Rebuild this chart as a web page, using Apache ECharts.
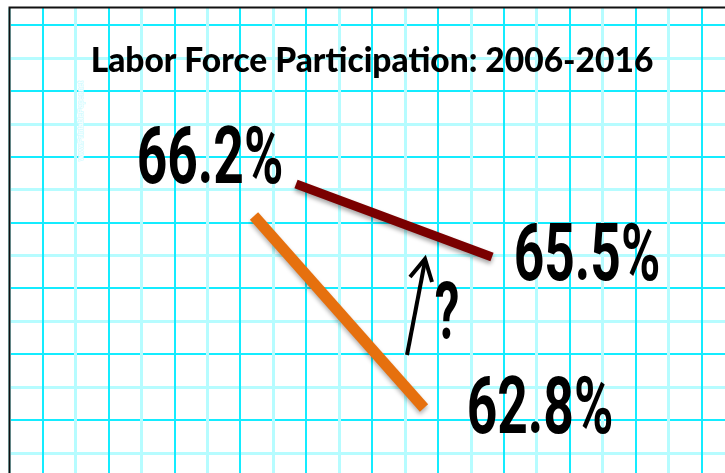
<!DOCTYPE html>
<html>
<head>
<meta charset="utf-8">
<style>
  html, body { margin: 0; padding: 0; background: #fff; }
  #chart { width: 725px; height: 473px; }
</style>
<script src="https://cdn.jsdelivr.net/npm/echarts/dist/echarts.min.js"></script>
</head>
<body>
<div id="chart"></div>
<script>
// 数据
var years = [2006, 2016];
var redValues = [66.2, 65.5];     // 深红线
var orangeValues = [66.2, 62.8];  // 橙线
var titleText = 'Labor Force Participation: 2006-2016';
var questionText = '?';
var watermarkText = 'www.PrintablePaper.net';

var chart = echarts.init(document.getElementById('chart'));

var CELL_X = 65.9; // 方格大小
var CELL_Y = 65.8;
var BRIGHT = '#14ecff';
var LIGHT = '#b6fcff';

// 百分比文字
function pct(v) {
    return v.toFixed(1) + '%';
}

// 窄字体效果的大号文字
function bigText(text, x, y, size, sx) {
    return {
        type: 'text',
        x: x,
        y: y,
        scaleX: sx,
        z: 20,
        style: {
            text: text,
            font: 'bold ' + size + 'px Roboto',
            fill: '#000',
            textAlign: 'center',
            textVerticalAlign: 'middle'
        }
    };
}

// 方格纸的轴
function paperAxis(idx, count, color, width) {
    return {
        type: 'value',
        gridIndex: idx,
        min: 0,
        max: count,
        interval: 1,
        axisLine: { show: false },
        axisTick: { show: false },
        axisLabel: { show: false },
        splitLine: { show: true, lineStyle: { color: color, width: width } }
    };
}

function hiddenAxis(idx, min, max) {
    return {
        type: 'value',
        gridIndex: idx,
        min: min,
        max: max,
        show: false,
        splitLine: { show: false }
    };
}

var option = {
    animation: false,
    backgroundColor: '#fff',
    grid: [
        // 竖线：浅色，深色
        { left: 9.5, top: 8, width: 10 * CELL_X, bottom: 0 },
        { left: 42.5, top: 8, width: 10 * CELL_X, bottom: 0 },
        // 横线：浅色，深色
        { left: 10, right: 0, top: 58, height: 6 * CELL_Y },
        { left: 10, right: 0, top: 25, height: 6 * CELL_Y },
        // 两条线
        { left: 296, top: 184, width: 196, height: 73 },
        { left: 254, top: 216, width: 170, height: 192 }
    ],
    xAxis: [
        paperAxis(0, 10, LIGHT, 3),
        paperAxis(1, 10, BRIGHT, 2),
        hiddenAxis(2, 0, 1),
        hiddenAxis(3, 0, 1),
        hiddenAxis(4, years[0], years[1]),
        hiddenAxis(5, years[0], years[1])
    ],
    yAxis: [
        hiddenAxis(0, 0, 1),
        hiddenAxis(1, 0, 1),
        paperAxis(2, 6, LIGHT, 3),
        paperAxis(3, 6, BRIGHT, 2),
        hiddenAxis(4, Math.min.apply(null, redValues), Math.max.apply(null, redValues)),
        hiddenAxis(5, Math.min.apply(null, orangeValues), Math.max.apply(null, orangeValues))
    ],
    series: [
        {
            type: 'line',
            xAxisIndex: 4,
            yAxisIndex: 4,
            data: years.map(function (y, i) { return [y, redValues[i]]; }),
            symbol: 'none',
            clip: false,
            z: 10,
            lineStyle: {
                color: '#7a0000',
                width: 9,
                cap: 'butt',
                shadowColor: 'rgba(0,0,0,0.35)',
                shadowBlur: 4,
                shadowOffsetY: 3
            }
        },
        {
            type: 'line',
            xAxisIndex: 5,
            yAxisIndex: 5,
            data: years.map(function (y, i) { return [y, orangeValues[i]]; }),
            symbol: 'none',
            clip: false,
            z: 10,
            lineStyle: {
                color: '#e6700e',
                width: 11,
                cap: 'butt',
                shadowColor: 'rgba(0,0,0,0.3)',
                shadowBlur: 4,
                shadowOffsetY: 3
            }
        }
    ],
    graphic: [
        // 边框
        {
            type: 'polyline',
            z: 30,
            shape: { points: [[9.5, 473], [9.5, 7.5], [725, 7.5]] },
            style: { stroke: '#111', lineWidth: 2, fill: null }
        },
        // 水印
        {
            type: 'text',
            x: 81,
            y: 121,
            rotation: Math.PI / 2,
            z: 5,
            style: {
                text: watermarkText,
                font: '7.5px sans-serif',
                fill: '#fff',
                stroke: '#d4fbff',
                lineWidth: 1.5,
                textAlign: 'center',
                textVerticalAlign: 'middle'
            }
        },
        // 标题
        {
            type: 'text',
            x: 372,
            y: 61,
            z: 20,
            style: {
                text: titleText,
                font: '900 33.5px Lato',
                fill: '#000',
                textAlign: 'center',
                textVerticalAlign: 'middle'
            }
        },
        bigText(pct(redValues[0]), 210, 163, 79, 0.675),
        bigText(pct(redValues[1]), 587, 260, 79, 0.675),
        bigText(pct(orangeValues[1]), 540, 413, 79, 0.675),
        bigText(questionText, 447, 319, 80, 0.62),
        // 箭头
        {
            type: 'line',
            z: 25,
            shape: { x1: 407, y1: 355, x2: 425, y2: 261 },
            style: { stroke: '#000', lineWidth: 4 }
        },
        {
            type: 'polyline',
            z: 25,
            shape: { points: [[410, 277], [425, 259], [432, 282]] },
            style: { stroke: '#000', lineWidth: 4, fill: null }
        }
    ]
};

chart.setOption(option);
</script>
</body>
</html>
